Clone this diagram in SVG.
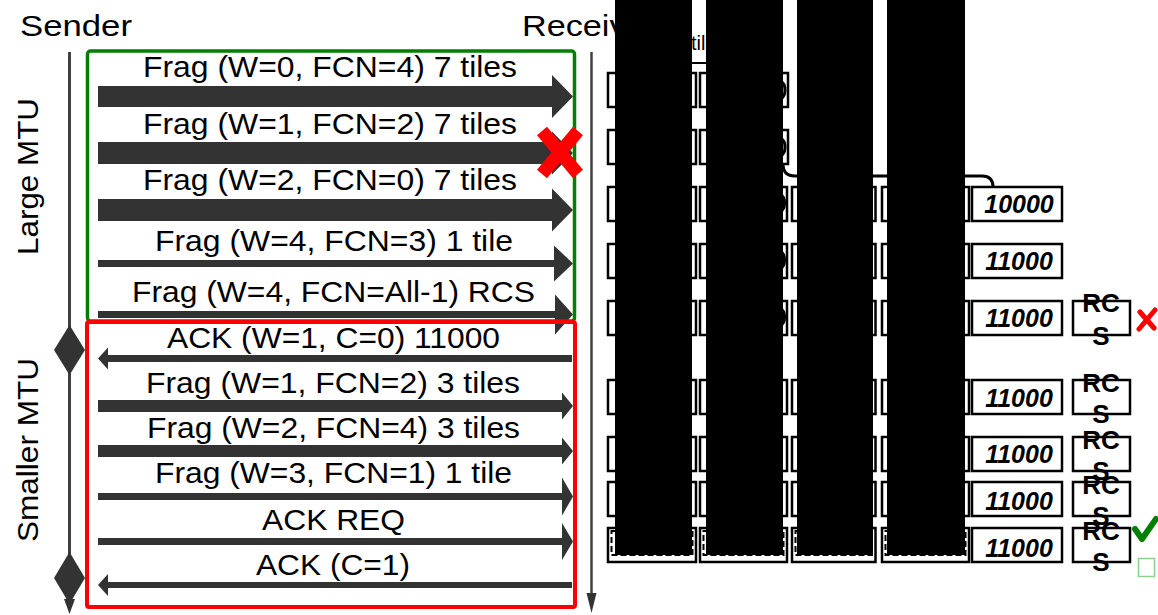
<svg xmlns="http://www.w3.org/2000/svg" width="1158" height="615" viewBox="0 0 1158 615">
<style>
.t{font-family:"Liberation Sans",Arial,sans-serif;font-size:29px;fill:#000}
.h{font-family:"Liberation Sans",Arial,sans-serif;font-size:30px;fill:#000}
.a{fill:#333}
.life{stroke:#404040;stroke-width:3;fill:none}
.cell{fill:#fff;stroke:#000;stroke-width:2.5}
.in{fill:none;stroke:#000;stroke-width:2;stroke-dasharray:6 3}
.arc{fill:none;stroke:#000;stroke-width:3}
.num{font-family:"Liberation Sans",Arial,sans-serif;font-size:25px;font-weight:bold;font-style:italic;text-anchor:middle;fill:#000}
.rcs{font-family:"Liberation Sans",Arial,sans-serif;font-size:26px;font-weight:bold;text-anchor:middle;fill:#000}
.blk{fill:#000}
</style>
<g id="sender">
<text class="h" x="20" y="36" textLength="112" lengthAdjust="spacingAndGlyphs">Sender</text>
<line class="life" x1="69.5" y1="52" x2="69.5" y2="603"/>
<polygon class="a" points="64,599 75,599 69.5,614"/>
<polygon class="a" points="69.5,325 85,350 69.5,375 54,350"/>
<polygon class="a" points="69.5,552 85,578 69.5,604 54,578"/>
<text class="h" transform="translate(38,176.5) rotate(-90)" text-anchor="middle" textLength="157" lengthAdjust="spacingAndGlyphs">Large MTU</text>
<text class="h" transform="translate(38,450) rotate(-90)" text-anchor="middle" textLength="184" lengthAdjust="spacingAndGlyphs">Smaller MTU</text>
</g>
<g id="receiver">
<text class="h" x="522" y="36" textLength="135" lengthAdjust="spacingAndGlyphs">Receiver</text>
<line x1="591.5" y1="52" x2="591.5" y2="596" stroke="#404040" stroke-width="2.5"/>
<polygon class="a" points="586.5,593 596.5,593 591.5,613"/>
</g>
<g id="connectors">
<polygon class="a" points="98,86 552,86 552,75 573,96.5 552,118 552,107 98,107"/>
<polygon class="a" points="98,142 552,142 552,131.5 573,153 552,174.5 552,164 98,164"/>
<polygon class="a" points="98,199 552,199 552,188.5 573,210 552,231.5 552,221 98,221"/>
<polygon class="a" points="98,260 554,260 554,245.5 573,263.5 554,281.5 554,267 98,267"/>
<polygon class="a" points="98,311 555,311 555,294.5 573,314.5 555,334.5 555,318 98,318"/>
<polygon class="a" points="572,355 108,355 108,347.5 98,358.5 108,369.5 108,362 572,362"/>
<polygon class="a" points="98,400 562,400 562,392.5 573,406 562,419.5 562,412 98,412"/>
<polygon class="a" points="98,445 562,445 562,437.5 573,451 562,464.5 562,457 98,457"/>
<polygon class="a" points="98,493 562,493 562,477.5 573,496.5 562,515.5 562,500 98,500"/>
<polygon class="a" points="98,538 562,538 562,523 573,541.5 562,560 562,545 98,545"/>
<polygon class="a" points="572,582 108,582 108,574 98,585 108,596 108,588 572,588"/>
</g>
<g id="frames">
<rect x="87.5" y="51" width="487" height="270" rx="3" fill="none" stroke="#008000" stroke-width="3.5"/>
<rect x="87" y="322" width="488" height="285" rx="2" fill="none" stroke="#ff0000" stroke-width="4"/>
</g>
<g id="labels">
<text class="t" x="143" y="77" textLength="374" lengthAdjust="spacingAndGlyphs">Frag (W=0, FCN=4) 7 tiles</text>
<text class="t" x="143" y="134" textLength="374" lengthAdjust="spacingAndGlyphs">Frag (W=1, FCN=2) 7 tiles</text>
<text class="t" x="143" y="190" textLength="374" lengthAdjust="spacingAndGlyphs">Frag (W=2, FCN=0) 7 tiles</text>
<text class="t" x="155" y="251" textLength="358" lengthAdjust="spacingAndGlyphs">Frag (W=4, FCN=3) 1 tile</text>
<text class="t" x="132" y="302" textLength="403" lengthAdjust="spacingAndGlyphs">Frag (W=4, FCN=All-1) RCS</text>
<text class="t" x="167" y="348" textLength="333" lengthAdjust="spacingAndGlyphs">ACK (W=1, C=0) 11000</text>
<text class="t" x="146" y="393" textLength="374" lengthAdjust="spacingAndGlyphs">Frag (W=1, FCN=2) 3 tiles</text>
<text class="t" x="147" y="438" textLength="373" lengthAdjust="spacingAndGlyphs">Frag (W=2, FCN=4) 3 tiles</text>
<text class="t" x="155" y="483" textLength="357" lengthAdjust="spacingAndGlyphs">Frag (W=3, FCN=1) 1 tile</text>
<text class="t" x="262" y="530" textLength="143" lengthAdjust="spacingAndGlyphs">ACK REQ</text>
<text class="t" x="256" y="575" textLength="154" lengthAdjust="spacingAndGlyphs">ACK (C=1)</text>
</g>
<g id="loss-mark">
<line x1="542" y1="131" x2="578" y2="174" stroke="#ff0000" stroke-width="13"/>
<line x1="578" y1="131" x2="542" y2="174" stroke="#ff0000" stroke-width="13"/>
</g>
<g id="tiles">
<text x="691" y="50" font-family="Liberation Sans, Arial, sans-serif" font-size="20">til</text>
<line x1="650" y1="63" x2="760" y2="63" stroke="#000" stroke-width="2"/>
<path class="arc" d="M783 164 Q783 176 795 176 L982 176 Q993 176 993 187" stroke-width="2.5"/>
<g id="rowA">
<rect class="cell" x="608" y="73" width="88" height="34"/>
<rect class="cell" x="700" y="73" width="88" height="34"/>
<path class="arc" d="M780.5 81 C786.5 84 786.5 96 780.5 99"/>
</g>
<g id="rowB">
<rect class="cell" x="608" y="130" width="88" height="34"/>
<rect class="cell" x="700" y="130" width="88" height="34"/>
<path class="arc" d="M780.5 138 C786.5 141 786.5 153 780.5 156"/>
</g>
<g id="rowC">
<rect class="cell" x="608" y="187" width="88" height="34"/>
<rect class="cell" x="700" y="187" width="87" height="34"/>
<rect class="cell" x="792" y="187" width="83.5" height="34"/>
<rect class="cell" x="882" y="187" width="87" height="34"/>
<rect class="cell" x="972" y="187" width="90" height="34"/>
<path class="arc" d="M780 194 C786 197 786 209 780 212"/>
<text class="num" x="1019" y="213">10000</text>
</g>
<g id="rowD">
<rect class="cell" x="608" y="244" width="88" height="34"/>
<rect class="cell" x="700" y="244" width="87" height="34"/>
<rect class="cell" x="792" y="244" width="83.5" height="34"/>
<rect class="cell" x="882" y="244" width="87" height="34"/>
<rect class="cell" x="972" y="244" width="90" height="34"/>
<path class="arc" d="M780 251 C786 254 786 266 780 269"/>
<text class="num" x="1019" y="270">11000</text>
</g>
<g id="rowE">
<rect class="cell" x="608" y="301" width="88" height="34"/>
<rect class="cell" x="700" y="301" width="87" height="34"/>
<rect class="cell" x="792" y="301" width="83.5" height="34"/>
<rect class="cell" x="882" y="301" width="87" height="34"/>
<rect class="cell" x="972" y="301" width="90" height="34"/>
<rect class="cell" x="1073" y="301" width="57" height="34"/>
<path class="arc" d="M780 308 C786 311 786 323 780 326"/>
<text class="num" x="1019" y="327">11000</text>
<text class="rcs" x="1101" y="312">RC</text>
<text class="rcs" x="1101" y="345">S</text>
</g>
<g id="rowF">
<rect class="cell" x="608" y="380" width="88" height="34"/>
<rect class="cell" x="700" y="380" width="87" height="34"/>
<rect class="cell" x="792" y="380" width="83.5" height="34"/>
<rect class="cell" x="882" y="380" width="87" height="34"/>
<rect class="cell" x="972" y="380" width="90" height="34"/>
<rect class="cell" x="1073" y="380" width="57" height="34"/>
<text class="num" x="1019" y="407">11000</text>
<text class="rcs" x="1101" y="392">RC</text>
<text class="rcs" x="1101" y="423">S</text>
</g>
<g id="rowG">
<rect class="cell" x="608" y="437" width="88" height="34"/>
<rect class="cell" x="700" y="437" width="87" height="34"/>
<rect class="cell" x="792" y="437" width="83.5" height="34"/>
<rect class="cell" x="882" y="437" width="87" height="34"/>
<rect class="cell" x="972" y="437" width="90" height="34"/>
<rect class="cell" x="1073" y="437" width="57" height="34"/>
<text class="num" x="1019" y="463">11000</text>
<text class="rcs" x="1101" y="449">RC</text>
<text class="rcs" x="1101" y="480">S</text>
</g>
<g id="rowH">
<rect class="cell" x="608" y="482" width="88" height="34"/>
<rect class="cell" x="700" y="482" width="87" height="34"/>
<rect class="cell" x="792" y="482" width="83.5" height="34"/>
<rect class="cell" x="882" y="482" width="87" height="34"/>
<rect class="cell" x="972" y="482" width="90" height="34"/>
<rect class="cell" x="1073" y="482" width="57" height="34"/>
<text class="num" x="1019" y="510">11000</text>
<text class="rcs" x="1101" y="494">RC</text>
<text class="rcs" x="1101" y="525">S</text>
</g>
<g id="rowI">
<rect class="cell" x="608" y="528" width="88" height="34"/>
<rect class="cell" x="700" y="528" width="87" height="34"/>
<rect class="cell" x="792" y="528" width="83.5" height="34"/>
<rect class="cell" x="882" y="528" width="87" height="34"/>
<rect class="in" x="611.5" y="531" width="81" height="24"/>
<rect class="in" x="703.5" y="531" width="80" height="24"/>
<rect class="in" x="795.5" y="531" width="76.5" height="24"/>
<rect class="in" x="885.5" y="531" width="80" height="24"/>
<rect class="cell" x="972" y="528" width="90" height="34"/>
<rect class="cell" x="1073" y="528" width="57" height="34"/>
<text class="num" x="1019" y="557">11000</text>
<text class="rcs" x="1101" y="540">RC</text>
<text class="rcs" x="1101" y="571">S</text>
</g>
<g id="marks">
<path d="M1140 312 L1154 328 M1155 310 L1139 329" stroke="#ff0000" stroke-width="5" stroke-linecap="round" fill="none"/>
<path d="M1135 529 L1142 539 L1156 519" stroke="#008000" stroke-width="6" stroke-linecap="round" stroke-linejoin="round" fill="none"/>
<rect x="1138.5" y="558.5" width="16" height="18" fill="#fff" stroke="#8fd08f" stroke-width="1.5"/>
</g>
</g>
<g id="redaction">
<rect class="blk" x="615" y="0" width="77" height="555"/>
<rect class="blk" x="706" y="0" width="77" height="555"/>
<rect class="blk" x="797" y="0" width="76" height="555"/>
<rect class="blk" x="887" y="0" width="78" height="555"/>
</g>
</svg>
